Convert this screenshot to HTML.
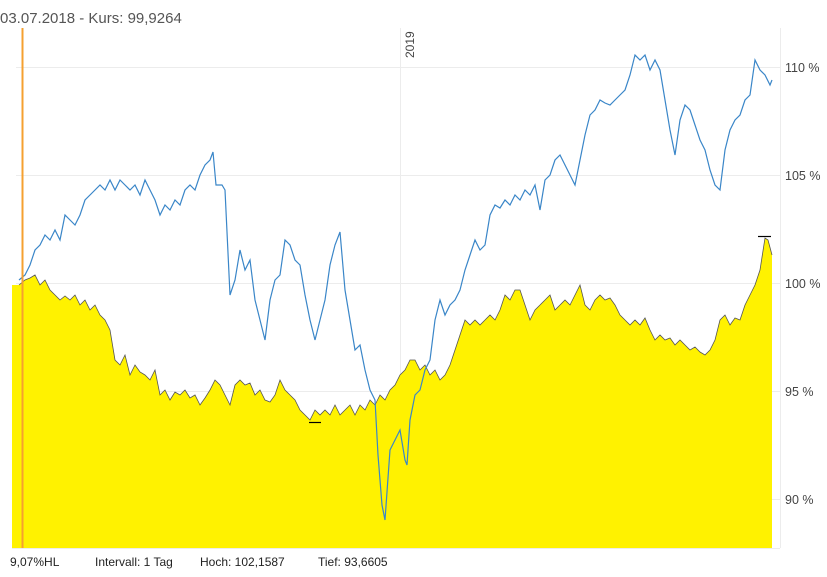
<!DOCTYPE html><html><head><meta charset="utf-8"><style>body{margin:0;background:#fff}svg{display:block}text{font-family:"Liberation Sans",sans-serif}</style></head><body>
<svg width="827" height="577" viewBox="0 0 827 577">
<g stroke="#ececec" stroke-width="1">
<line x1="16" y1="67.5" x2="780" y2="67.5"/><line x1="16" y1="175.5" x2="780" y2="175.5"/><line x1="16" y1="283.5" x2="780" y2="283.5"/><line x1="16" y1="391.5" x2="780" y2="391.5"/><line x1="16" y1="499.5" x2="780" y2="499.5"/>
<line x1="400.5" y1="28" x2="400.5" y2="548"/><line x1="780.5" y1="28" x2="780.5" y2="548"/><line x1="12" y1="548.5" x2="780" y2="548.5"/>
</g>
<polygon fill="#fff200" points="19,285 25,280 30,278 35,275 40,285 45,280 50,290 55,295 60,300 65,296 70,300 75,295 80,305 85,300 90,310 95,305 100,315 105,320 110,330 115,360 120,365 125,355 130,375 135,365 140,372 145,375 150,380 155,370 160,395 165,390 170,400 175,392 180,395 185,390 190,398 195,395 200,405 205,398 210,390 215,380 220,385 225,395 230,405 235,385 240,380 245,385 250,383 255,395 260,390 265,400 270,402 275,395 280,380 285,390 290,395 295,400 300,410 305,415 310,420 315,410 320,415 325,410 330,415 335,405 340,415 345,410 350,405 355,415 360,405 365,410 370,400 375,405 380,395 385,400 390,390 395,385 400,375 405,370 410,360 415,360 420,370 425,365 430,375 435,370 440,380 445,375 450,365 455,350 460,335 465,320 470,325 475,320 480,325 485,320 490,315 495,320 500,310 505,295 510,300 515,290 520,290 525,305 530,320 535,310 540,305 545,300 550,295 555,310 560,305 565,300 570,305 575,295 580,285 585,305 590,310 595,300 600,295 605,300 610,298 615,305 620,315 625,320 630,325 635,320 640,325 645,318 650,330 655,340 660,335 665,340 670,338 675,345 680,340 685,345 690,350 695,347 700,352 705,355 710,350 715,340 720,320 725,315 730,325 735,318 740,320 745,305 750,295 755,285 760,270 765,238 768,240 772,255 772,548 12,548 12,285"/>
<polyline fill="none" stroke="#555" stroke-width="0.8" points="19,285 25,280 30,278 35,275 40,285 45,280 50,290 55,295 60,300 65,296 70,300 75,295 80,305 85,300 90,310 95,305 100,315 105,320 110,330 115,360 120,365 125,355 130,375 135,365 140,372 145,375 150,380 155,370 160,395 165,390 170,400 175,392 180,395 185,390 190,398 195,395 200,405 205,398 210,390 215,380 220,385 225,395 230,405 235,385 240,380 245,385 250,383 255,395 260,390 265,400 270,402 275,395 280,380 285,390 290,395 295,400 300,410 305,415 310,420 315,410 320,415 325,410 330,415 335,405 340,415 345,410 350,405 355,415 360,405 365,410 370,400 375,405 380,395 385,400 390,390 395,385 400,375 405,370 410,360 415,360 420,370 425,365 430,375 435,370 440,380 445,375 450,365 455,350 460,335 465,320 470,325 475,320 480,325 485,320 490,315 495,320 500,310 505,295 510,300 515,290 520,290 525,305 530,320 535,310 540,305 545,300 550,295 555,310 560,305 565,300 570,305 575,295 580,285 585,305 590,310 595,300 600,295 605,300 610,298 615,305 620,315 625,320 630,325 635,320 640,325 645,318 650,330 655,340 660,335 665,340 670,338 675,345 680,340 685,345 690,350 695,347 700,352 705,355 710,350 715,340 720,320 725,315 730,325 735,318 740,320 745,305 750,295 755,285 760,270 765,238 768,240 772,255"/>
<line x1="758" y1="236.5" x2="771" y2="236.5" stroke="#000" stroke-width="1.2"/>
<line x1="309" y1="422.5" x2="321" y2="422.5" stroke="#000" stroke-width="1.2"/>
<polyline fill="none" stroke="#3a86c8" stroke-width="1.2" points="19,280 25,275 30,265 35,250 40,245 45,235 50,240 55,230 60,240 65,215 70,220 75,225 80,215 85,200 90,195 95,190 100,185 105,190 110,180 115,190 120,180 125,185 130,190 135,185 140,195 145,180 150,190 155,200 160,215 165,205 170,210 175,200 180,205 185,190 190,185 195,190 200,175 205,165 210,160 213,152 216,185 222,185 225,190 230,295 235,280 240,250 245,270 250,260 255,300 260,320 265,340 270,300 275,280 280,275 285,240 290,245 295,260 300,265 305,295 310,320 315,340 320,320 325,300 330,265 335,245 340,232 345,290 350,320 355,350 360,345 365,370 370,390 375,400 378,455 382,505 385,520 390,450 395,440 400,430 405,460 407,465 410,420 415,395 420,390 425,370 430,360 435,320 440,300 445,315 450,305 455,300 460,290 465,270 470,255 475,240 480,250 485,245 490,215 495,205 500,208 505,200 510,205 515,195 520,200 525,190 530,195 535,185 540,210 545,180 550,175 555,160 560,155 565,165 570,175 575,185 580,160 585,135 590,115 595,110 600,100 605,103 610,105 615,100 620,95 625,90 630,75 635,55 640,60 645,55 650,70 655,60 660,70 665,100 670,130 675,155 680,120 685,105 690,110 695,125 700,140 705,150 710,170 715,185 720,190 725,150 730,130 735,120 740,115 745,100 750,95 755,60 760,70 765,75 770,85 772,80"/>
<line x1="22.5" y1="28" x2="22.5" y2="548" stroke="#f5a030" stroke-width="2"/>
<text x="0" y="23" font-size="15" fill="#555">03.07.2018  -  Kurs: 99,9264</text>
<text transform="translate(414,58) rotate(-90)" font-size="12" fill="#444">2019</text>
<g font-size="12.5" fill="#444"><text x="785" y="72">110 %</text><text x="785" y="180">105 %</text><text x="785" y="288">100 %</text><text x="785" y="396">95 %</text><text x="785" y="504">90 %</text></g>
<g font-size="12" fill="#222"><text x="10" y="566">9,07%HL</text><text x="95" y="566">Intervall: 1 Tag</text><text x="200" y="566">Hoch: 102,1587</text><text x="318" y="566">Tief: 93,6605</text></g>
</svg></body></html>
